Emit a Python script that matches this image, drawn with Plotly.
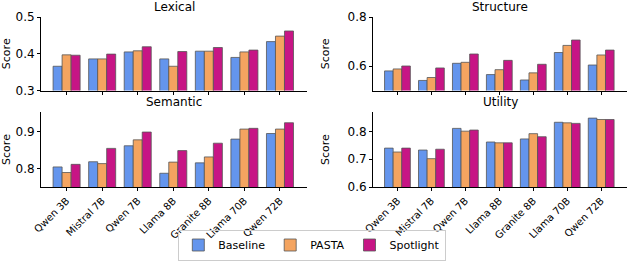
import plotly.graph_objects as go

models = ['Qwen 3B', 'Mistral 7B', 'Qwen 7B', 'Llama 8B', 'Granite 8B', 'Llama 70B', 'Qwen 72B']

lexical_baseline = [0.366, 0.386, 0.405, 0.386, 0.407, 0.390, 0.433]
lexical_pasta = [0.397, 0.386, 0.408, 0.366, 0.407, 0.405, 0.448]
lexical_spotlight = [0.396, 0.399, 0.419, 0.406, 0.417, 0.410, 0.462]

structure_baseline = [0.580, 0.541, 0.611, 0.565, 0.543, 0.655, 0.604]
structure_pasta = [0.588, 0.553, 0.615, 0.585, 0.572, 0.684, 0.645]
structure_spotlight = [0.600, 0.592, 0.649, 0.623, 0.607, 0.706, 0.665]

semantic_baseline = [0.804, 0.818, 0.861, 0.787, 0.815, 0.879, 0.894]
semantic_pasta = [0.789, 0.813, 0.877, 0.817, 0.831, 0.906, 0.906]
semantic_spotlight = [0.811, 0.854, 0.898, 0.848, 0.868, 0.908, 0.923]

utility_baseline = [0.740, 0.733, 0.811, 0.762, 0.773, 0.833, 0.848]
utility_pasta = [0.726, 0.702, 0.801, 0.759, 0.792, 0.831, 0.843]
utility_spotlight = [0.740, 0.736, 0.805, 0.759, 0.781, 0.829, 0.843]

methods = ['Baseline', 'PASTA', 'Spotlight']
colors = ['#6495ED', '#F4A460', '#C71585']

W, H = 640, 270
FONT = 'DejaVu Sans'

# (title, series, axis suffix, x px span, y px span, y range, y ticks, show x labels)
panels = [
    ('Lexical', [lexical_baseline, lexical_pasta, lexical_spotlight], '', (41, 307), (17, 90.5),
     [0.3, 0.5], [0.3, 0.4, 0.5], False),
    ('Structure', [structure_baseline, structure_pasta, structure_spotlight], '2', (373, 627), (17, 90.5),
     [0.5, 0.8], [0.6, 0.8], False),
    ('Semantic', [semantic_baseline, semantic_pasta, semantic_spotlight], '3', (41, 307), (112, 187),
     [0.75, 0.952], [0.8, 0.9], True),
    ('Utility', [utility_baseline, utility_pasta, utility_spotlight], '4', (373, 627), (112, 187),
     [0.6, 0.87], [0.6, 0.7, 0.8], True),
]

fig = go.Figure()
layout = {}
annotations = []

for p, (title, series, ax, xs, ys, yrange, yticks, show_labels) in enumerate(panels):
    for m, (name, vals) in enumerate(zip(methods, series)):
        fig.add_trace(go.Bar(
            x=list(range(len(models))),
            y=vals,
            name=name,
            marker=dict(color=colors[m], line=dict(color='#555555', width=0.8)),
            xaxis='x' + ax,
            yaxis='y' + ax,
            offsetgroup=str(m),
            showlegend=(p == 0),
            legendgroup=name,
        ))
    xdom = [xs[0] / W, xs[1] / W]
    ydom = [1 - ys[1] / H, 1 - ys[0] / H]
    layout['xaxis' + ax] = dict(
        domain=xdom, anchor='y' + ax, range=[-0.72, 6.76], automargin=False,
        tickvals=list(range(len(models))),
        ticktext=models if show_labels else [''] * len(models),
        tickangle=-45, ticks='outside', ticklen=3, tickcolor='black',
        ticklabeloverflow='allow',
        showline=True, linecolor='black', linewidth=1, showgrid=False, zeroline=False,
        tickfont=dict(family=FONT, size=10, color='black'),
    )
    layout['yaxis' + ax] = dict(
        domain=ydom, anchor='x' + ax, range=yrange, tickvals=yticks, automargin=False,
        ticks='outside', ticklen=3, tickcolor='black',
        showline=True, linecolor='black', linewidth=1, showgrid=False, zeroline=False,
        tickfont=dict(family=FONT, size=12, color='black'),
        title=dict(text='Score', font=dict(family=FONT, size=11, color='black')),
    )
    annotations.append(dict(
        text=title, x=(xdom[0] + xdom[1]) / 2, y=ydom[1], xref='paper', yref='paper',
        xanchor='center', yanchor='bottom', yshift=1, showarrow=False,
        font=dict(family=FONT, size=12, color='black'),
    ))

fig.update_layout(
    **layout,
    annotations=annotations,
    width=W, height=H,
    margin=dict(l=0, r=0, t=0, b=0, autoexpand=False),
    barmode='group', bargap=0.24, bargroupgap=0,
    plot_bgcolor='white', paper_bgcolor='white',
    font=dict(family=FONT, color='black'),
    legend=dict(
        orientation='h', x=0.488, y=1 - 245 / H, xanchor='center', yanchor='middle',
        bordercolor='#cccccc', borderwidth=1, bgcolor='rgba(255,255,255,0)',
        font=dict(family=FONT, size=11, color='black'),
        tracegroupgap=0,
    ),
)

# drop the browser's default body margin so the figure sits at the window origin
fig.write_html('out.html', config={'displayModeBar': False},
               post_script="document.body.style.margin='0';")
